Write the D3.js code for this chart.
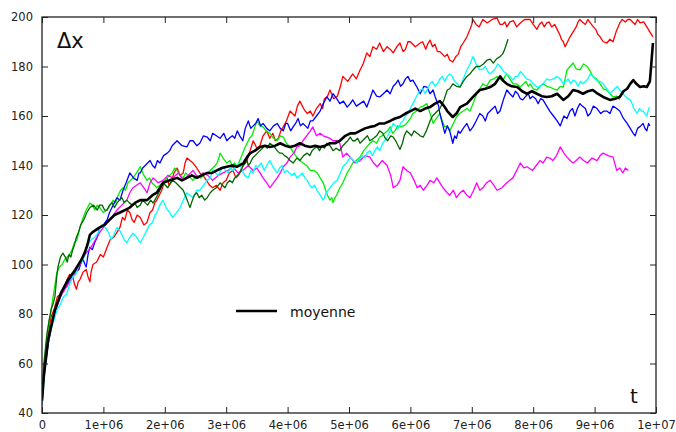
<!DOCTYPE html>
<html><head><meta charset="utf-8">
<script src="https://cdn.jsdelivr.net/npm/d3@7"></script>
<style>html,body{margin:0;padding:0;background:#fff;}svg{display:block;}</style>
</head><body>
<svg id="c" width="676" height="432"></svg>
<script>
// t in units of 1e6, value = Δx
const redData = [[0,45],[0.05,60],[0.1,72],[0.15,79],[0.2,82],[0.25,87],[0.3,88],[0.37,91],[0.41,94],[0.45,96],[0.5,95],[0.53,92],[0.56,90],[0.59,93],[0.62,94],[0.67,97],[0.72,98],[0.75,95],[0.78,93],[0.8,97],[0.83,100],[0.89,101],[0.95,104],[1.0,103],[1.06,107],[1.11,110],[1.17,111],[1.22,113],[1.27,115],[1.31,119],[1.35,118],[1.39,122],[1.43,121],[1.47,118],[1.5,117],[1.55,120],[1.6,119],[1.66,116],[1.71,117],[1.76,121],[1.8,122],[1.84,125],[1.87,126],[1.91,128],[1.95,130],[2.0,134],[2.04,135],[2.07,132],[2.1,133],[2.15,137],[2.2,139],[2.25,136],[2.3,137],[2.33,141],[2.36,143],[2.41,142],[2.46,141],[2.52,139],[2.57,137],[2.62,136],[2.68,134],[2.73,132],[2.78,131],[2.84,132],[2.9,130],[2.95,133],[3.0,134],[3.05,137],[3.11,138],[3.16,135],[3.2,136],[3.27,140],[3.34,142],[3.39,146],[3.44,150],[3.5,147],[3.55,148],[3.6,152],[3.66,154],[3.71,151],[3.76,153],[3.8,150],[3.85,151],[3.89,154],[3.93,155.6],[3.98,158],[4.04,162],[4.08,161],[4.12,160],[4.16,164],[4.2,166],[4.26,163],[4.32,161],[4.37,162],[4.41,160],[4.47,163],[4.53,165],[4.57,163],[4.6,167],[4.65,168],[4.69,170.5],[4.75,167],[4.81,168],[4.86,172],[4.9,176],[4.98,174],[5.06,177],[5.12,175],[5.18,178.6],[5.23,181],[5.29,185.5],[5.34,184],[5.39,188],[5.45,187],[5.5,189.5],[5.56,186],[5.62,188],[5.67,187],[5.72,185.5],[5.78,188],[5.83,189.5],[5.88,186],[5.92,187],[5.96,190],[6.0,190],[6.08,188],[6.16,189.5],[6.2,190],[6.25,187],[6.28,189],[6.32,190.7],[6.36,188],[6.4,189],[6.44,186],[6.48,186],[6.52,185],[6.56,184],[6.6,185],[6.64,182.6],[6.69,181.8],[6.74,184],[6.78,185],[6.82,188],[6.86,189.5],[6.92,192],[6.97,195],[7.0,197],[7.02,199],[7.07,197],[7.12,196],[7.18,199],[7.25,197.6],[7.33,199],[7.41,199.6],[7.46,197],[7.5,197],[7.54,198],[7.57,196],[7.62,198],[7.68,198.5],[7.73,196],[7.79,197.6],[7.86,199],[7.95,199],[8.0,197],[8.06,195],[8.1,197],[8.14,198],[8.18,196],[8.22,197.6],[8.26,198],[8.3,196],[8.35,197],[8.39,195],[8.43,193],[8.46,191],[8.49,190],[8.52,188],[8.56,190],[8.6,192],[8.65,194],[8.7,196],[8.73,198],[8.76,199],[8.8,198],[8.85,197],[8.89,199],[8.93,197.6],[8.98,196],[9.02,195],[9.05,193],[9.09,192],[9.14,190],[9.2,189.5],[9.25,191],[9.3,190],[9.35,194],[9.41,197.6],[9.45,199],[9.5,198],[9.54,199],[9.58,199],[9.62,198],[9.66,197],[9.7,199],[9.74,197.6],[9.8,198],[9.85,196],[9.9,194],[9.95,192]];
const blueData = [[0,44],[0.03,55],[0.1,68],[0.15,75],[0.2,80],[0.25,84],[0.3,87],[0.35,90],[0.4,91],[0.45,94],[0.5,95],[0.55,97],[0.6,98],[0.64,101],[0.67,102],[0.7,100],[0.72,99],[0.75,104],[0.78,107],[0.82,106],[0.86,109],[0.9,111],[0.94,115],[1.0,116],[1.06,118],[1.1,121],[1.14,123],[1.18,125],[1.22,127],[1.27,126],[1.32,130],[1.37,133],[1.43,137],[1.49,135],[1.55,134],[1.58,137],[1.6,137],[1.64,139],[1.68,140],[1.72,141],[1.76,142],[1.8,140],[1.84,139],[1.88,142],[1.92,141],[1.98,144],[2.04,145],[2.08,146],[2.12,148],[2.16,149],[2.2,150],[2.28,148],[2.36,147.5],[2.41,150],[2.46,150],[2.52,148],[2.57,149],[2.63,152],[2.69,151.5],[2.74,150],[2.78,153],[2.84,152],[2.9,151],[2.96,153],[3.01,150],[3.05,151],[3.1,152],[3.14,151],[3.18,154],[3.22,152],[3.27,150],[3.31,155],[3.36,158],[3.4,155],[3.44,156],[3.48,157],[3.52,159],[3.56,156],[3.6,157],[3.66,155],[3.71,154],[3.77,156],[3.83,157],[3.88,155],[3.93,154],[3.97,157],[4.0,157],[4.05,154],[4.09,155.6],[4.13,157],[4.17,159],[4.21,156],[4.25,157],[4.29,156],[4.33,155],[4.37,158],[4.41,158],[4.47,160],[4.53,162],[4.58,165],[4.64,167.7],[4.69,166],[4.74,169],[4.8,167],[4.85,165],[4.91,166],[4.97,163.6],[5.02,165],[5.06,166.5],[5.12,164],[5.18,165],[5.24,166],[5.29,163.6],[5.34,167],[5.39,170.5],[5.45,168],[5.5,167.7],[5.56,169],[5.62,170.5],[5.67,169],[5.72,172],[5.76,173],[5.8,174.5],[5.84,172],[5.88,173],[5.92,175],[5.96,176],[6.0,174],[6.04,174.5],[6.1,172],[6.16,169],[6.22,172],[6.27,171.7],[6.32,169],[6.37,170.5],[6.4,168],[6.43,166],[6.46,164],[6.48,161],[6.52,157],[6.56,153],[6.6,156],[6.64,154],[6.67,151],[6.69,149],[6.72,152],[6.75,151],[6.78,154],[6.81,153],[6.86,155],[6.92,157],[6.97,154],[7.02,155.6],[7.07,158],[7.13,161],[7.18,160],[7.22,158],[7.26,161],[7.3,162],[7.34,163],[7.38,164],[7.42,161],[7.46,162],[7.52,167],[7.57,170.5],[7.62,169],[7.67,167.7],[7.71,170],[7.75,169],[7.79,167],[7.83,166.5],[7.88,168],[7.92,169],[7.95,167],[7.99,168],[8.04,167],[8.08,165],[8.12,167],[8.16,166.5],[8.22,164],[8.27,162],[8.33,160],[8.39,158],[8.44,156],[8.47,158],[8.5,160],[8.55,159],[8.6,162],[8.64,163],[8.68,160],[8.72,163],[8.76,165],[8.8,164],[8.85,163],[8.89,160],[8.93,161],[8.98,164],[9.04,163],[9.1,161],[9.15,162],[9.2,162],[9.25,161],[9.3,164],[9.36,163],[9.41,162],[9.47,159],[9.53,157],[9.58,155],[9.63,153],[9.66,152],[9.7,155],[9.75,156],[9.79,157],[9.82,155],[9.85,154],[9.88,157],[9.9,156]];
const cyanData = [[0,44],[0.05,58],[0.1,68],[0.15,74],[0.2,78],[0.25,82],[0.3,84],[0.35,87],[0.4,88],[0.45,92],[0.5,95],[0.55,96],[0.6,100],[0.65,101],[0.7,104],[0.75,108],[0.8,110],[0.86,111],[0.92,113],[0.97,116],[1.03,115],[1.08,113],[1.13,110],[1.17,112],[1.22,115],[1.26,114],[1.3,112],[1.34,110],[1.38,108.7],[1.43,111],[1.48,112.7],[1.54,111],[1.6,108.7],[1.65,111],[1.71,114],[1.75,116],[1.8,117],[1.84,120],[1.87,121],[1.92,124],[1.97,126],[2.02,123],[2.08,121],[2.1,120],[2.13,119],[2.19,121],[2.25,123],[2.3,126],[2.36,129],[2.41,128],[2.46,127],[2.52,130],[2.57,130],[2.63,132],[2.69,134],[2.74,135],[2.78,138],[2.83,137],[2.87,136],[2.91,138],[2.95,139.5],[2.99,138],[3.03,137],[3.07,139],[3.11,138],[3.17,140],[3.22,141],[3.26,138],[3.3,136],[3.36,135],[3.4,138],[3.44,137],[3.48,140],[3.52,139.5],[3.57,141],[3.62,138],[3.66,140],[3.71,142],[3.77,139],[3.83,137],[3.87,139],[3.91,140],[3.95,137],[3.99,138],[4.03,137],[4.07,136],[4.11,137],[4.15,135],[4.2,136],[4.24,137],[4.28,135],[4.32,134],[4.36,132],[4.4,131],[4.44,132],[4.48,130],[4.53,128],[4.58,126],[4.63,129],[4.69,131],[4.75,133],[4.81,134],[4.86,137],[4.9,139.5],[4.96,141],[5.02,143.4],[5.07,142],[5.13,141],[5.18,143],[5.22,144],[5.26,143],[5.29,145],[5.34,146],[5.38,144],[5.42,146],[5.46,147.5],[5.5,146],[5.55,149],[5.58,150],[5.62,151.5],[5.67,154],[5.72,157],[5.76,156],[5.8,155],[5.84,157],[5.88,158],[5.92,160],[5.96,161],[6.0,163],[6.04,165],[6.1,168],[6.16,170.5],[6.2,171],[6.24,169],[6.28,171],[6.32,173],[6.36,174],[6.4,172],[6.44,173],[6.48,175],[6.52,176],[6.56,174],[6.6,176],[6.64,177],[6.68,176],[6.72,174],[6.76,173],[6.81,171.7],[6.86,175],[6.92,178.6],[6.97,181],[7.02,184],[7.07,181],[7.13,178.6],[7.18,179],[7.22,180],[7.26,178],[7.3,177],[7.34,178],[7.38,179],[7.42,181],[7.46,180],[7.52,178],[7.57,177],[7.62,176],[7.67,174.5],[7.71,176],[7.75,176],[7.79,178],[7.83,177],[7.89,175],[7.95,174.5],[8.0,173],[8.06,171.7],[8.11,172],[8.16,173],[8.22,175],[8.27,174.5],[8.33,175],[8.39,176],[8.44,175],[8.49,173],[8.53,174],[8.57,175],[8.61,173],[8.65,174.5],[8.69,174],[8.73,172],[8.77,174],[8.81,173],[8.85,174],[8.89,175],[8.93,177],[8.97,176],[9.01,175],[9.05,174],[9.09,174],[9.14,173],[9.2,171],[9.25,169],[9.29,170],[9.33,171],[9.37,172],[9.41,170.5],[9.46,169],[9.5,168],[9.54,167],[9.58,166.5],[9.61,165],[9.64,163],[9.67,162],[9.69,161],[9.73,163],[9.77,162],[9.79,162],[9.82,161],[9.85,160],[9.88,163],[9.9,163.6]];
const greenData = [[0,45],[0.03,58],[0.08,70],[0.11,76],[0.15,82],[0.2,90],[0.24,96.6],[0.28,99],[0.33,100],[0.37,102],[0.41,103],[0.45,104],[0.49,106],[0.53,109],[0.57,110],[0.62,115],[0.67,119],[0.72,122],[0.78,124.8],[0.82,124],[0.86,122],[0.9,124],[0.94,123],[1.0,121],[1.06,122],[1.11,124],[1.16,126],[1.2,125],[1.24,128],[1.28,130],[1.32,131],[1.36,130],[1.4,133],[1.44,134],[1.48,135],[1.54,137],[1.6,139.5],[1.66,136],[1.71,134],[1.75,135],[1.79,133],[1.83,132],[1.87,131],[1.92,132],[1.96,133],[2.0,134],[2.04,135],[2.08,136],[2.12,137],[2.16,139],[2.2,138],[2.25,136],[2.3,135],[2.34,137],[2.38,136],[2.42,135],[2.46,134],[2.52,136],[2.58,135],[2.63,136],[2.69,137],[2.74,138],[2.78,139],[2.82,140],[2.85,141],[2.88,143],[2.9,145],[2.95,143],[3.01,141],[3.06,142],[3.1,140],[3.14,141],[3.18,139.5],[3.22,142],[3.27,145],[3.3,147],[3.34,149],[3.38,151],[3.42,152],[3.46,155],[3.5,158],[3.55,156],[3.6,155.6],[3.65,154],[3.71,153],[3.77,151],[3.83,150],[3.88,152],[3.93,151.5],[3.98,149],[4.04,147.5],[4.1,145],[4.15,143.4],[4.2,142],[4.25,141],[4.31,140],[4.37,138],[4.43,138],[4.48,137],[4.53,135],[4.58,133],[4.62,130],[4.65,128],[4.69,126],[4.72,127],[4.74,125],[4.77,127],[4.8,128],[4.85,131],[4.9,133],[4.97,137],[5.02,139],[5.06,141],[5.12,142],[5.18,143.4],[5.24,146],[5.29,147.5],[5.34,149],[5.39,150],[5.45,149],[5.5,151.5],[5.54,152],[5.58,153],[5.63,154],[5.67,155.6],[5.71,153],[5.75,154],[5.79,156],[5.83,155.6],[5.89,156],[5.94,157],[6.0,159],[6.04,161],[6.1,162],[6.16,163.6],[6.21,164],[6.27,165],[6.32,161],[6.37,157],[6.42,159],[6.48,161],[6.52,158],[6.56,155.6],[6.6,156],[6.64,154],[6.7,157],[6.75,159.6],[6.8,161],[6.86,162],[6.92,163],[6.97,162],[7.02,165],[7.08,169],[7.13,171],[7.18,173],[7.24,172],[7.3,174.5],[7.36,175],[7.41,176],[7.46,175],[7.5,174],[7.54,176],[7.57,177],[7.62,175],[7.67,173],[7.73,173],[7.79,171.7],[7.84,173],[7.88,174],[7.92,172],[7.95,173],[8.0,171],[8.06,170.5],[8.11,172],[8.16,173],[8.22,172],[8.27,171.7],[8.33,171],[8.39,170.5],[8.44,172],[8.49,171.7],[8.52,175],[8.55,178.6],[8.6,180],[8.65,181.4],[8.7,179],[8.76,178.6],[8.82,181],[8.88,180],[8.93,178],[8.97,176],[9.03,175],[9.09,173],[9.14,171],[9.2,170.5],[9.25,169],[9.3,167.7],[9.36,168],[9.41,166.5]];
const darkGreenData = [[0,46],[0.03,60],[0.08,72],[0.12,78],[0.15,82],[0.18,84],[0.21,87],[0.24,95],[0.26,99],[0.3,103],[0.34,104.6],[0.38,103],[0.41,101],[0.44,104],[0.47,103],[0.5,106],[0.53,108],[0.56,111],[0.59,112.7],[0.63,116],[0.68,118],[0.73,121],[0.78,123],[0.84,124],[0.9,122],[0.94,124],[0.98,124],[1.02,122],[1.06,122],[1.1,124],[1.14,125],[1.18,123],[1.22,124.8],[1.26,126],[1.3,127],[1.34,125],[1.38,126],[1.42,125],[1.47,124],[1.51,125],[1.55,123],[1.6,124],[1.64,126],[1.68,125],[1.72,124],[1.77,126],[1.81,124.8],[1.86,127],[1.9,129],[1.94,131],[1.97,132.9],[2.01,132],[2.05,131],[2.09,133],[2.13,134],[2.18,133],[2.22,132],[2.26,131],[2.3,130],[2.35,127],[2.38,125],[2.41,123],[2.45,126],[2.48,128],[2.52,129],[2.56,127],[2.6,128],[2.65,126],[2.69,127],[2.74,129],[2.78,130],[2.84,131],[2.9,133],[2.94,132],[2.98,131],[3.02,133],[3.06,134],[3.1,133],[3.14,135],[3.18,136],[3.22,137],[3.28,140],[3.34,142],[3.36,140],[3.39,141],[3.43,143],[3.47,144],[3.51,145],[3.55,146],[3.59,147],[3.63,148],[3.67,147],[3.71,149],[3.77,148],[3.83,146],[3.87,145],[3.91,145],[3.95,144],[3.99,143.4],[4.04,142],[4.09,141],[4.15,143],[4.2,142],[4.26,144],[4.32,145],[4.36,144],[4.4,146],[4.44,147],[4.48,147.5],[4.52,146],[4.56,148],[4.6,147],[4.64,149],[4.69,148],[4.74,146],[4.79,147],[4.85,146],[4.9,148],[4.94,149],[4.98,150],[5.02,151.5],[5.06,150],[5.1,150],[5.14,151],[5.18,149],[5.22,150],[5.26,151],[5.3,152],[5.34,150],[5.4,151],[5.45,152],[5.5,154],[5.55,153],[5.59,151],[5.63,150],[5.68,152],[5.72,151.5],[5.76,150],[5.8,148],[5.83,146.5],[5.87,149],[5.9,152],[5.94,154],[5.98,153],[6.02,152],[6.06,154],[6.11,153],[6.16,152],[6.21,151.5],[6.26,154],[6.32,158],[6.36,160],[6.4,161],[6.44,162],[6.48,163],[6.54,166],[6.6,170.5],[6.64,171],[6.69,173],[6.75,172],[6.81,171.7],[6.86,174],[6.92,176],[6.97,177],[7.02,178.6],[7.07,180],[7.13,180],[7.19,181],[7.25,182.6],[7.3,183],[7.35,181.4],[7.4,183],[7.46,184],[7.5,185],[7.52,186],[7.55,188],[7.57,189.5],[7.59,191]];
const magentaData = [[0,43],[0.03,55],[0.1,68],[0.2,80],[0.3,87],[0.4,91],[0.5,95],[0.6,99],[0.7,104],[0.8,107],[0.87,110],[0.94,113],[1.0,115],[1.06,117],[1.14,119],[1.22,122],[1.3,124],[1.38,126],[1.43,129],[1.48,131],[1.54,132],[1.6,133],[1.66,131],[1.71,129],[1.76,133],[1.81,135],[1.89,133],[1.97,134],[2.05,136],[2.13,135],[2.22,137],[2.3,134],[2.38,136],[2.46,138],[2.54,135],[2.62,137],[2.7,136],[2.78,134],[2.87,136],[2.95,137],[3.03,138],[3.11,139.5],[3.19,137],[3.27,138],[3.36,140],[3.44,138],[3.5,139],[3.55,137],[3.6,135],[3.66,133],[3.71,131],[3.77,133],[3.83,135],[3.88,137],[3.93,139.5],[3.99,141],[4.04,143.4],[4.1,145],[4.15,147.5],[4.2,148],[4.25,150],[4.31,152],[4.37,154],[4.41,155.6],[4.47,152],[4.53,153],[4.58,152],[4.64,151.5],[4.69,151],[4.74,150],[4.8,150],[4.85,149],[4.9,143.4],[4.96,145],[5.02,143.4],[5.1,141],[5.18,142],[5.26,144],[5.34,143.4],[5.4,141],[5.46,139.5],[5.54,142],[5.62,140],[5.68,136],[5.72,131],[5.78,132],[5.83,134],[5.88,139.5],[5.94,138],[6.0,137],[6.06,134],[6.11,131],[6.16,132],[6.21,130],[6.27,132],[6.32,134],[6.38,133],[6.43,135],[6.48,133],[6.53,131],[6.6,129],[6.64,128],[6.7,130],[6.75,127],[6.81,129],[6.86,130],[6.92,128],[6.97,127],[7.03,130],[7.08,133],[7.13,130],[7.18,131],[7.24,133],[7.3,134],[7.36,132],[7.41,130],[7.49,131],[7.57,133],[7.62,134],[7.67,135],[7.73,138],[7.79,141],[7.85,139],[7.9,139.5],[7.99,138],[8.05,140],[8.11,142],[8.16,141],[8.22,143.4],[8.27,143],[8.32,142],[8.38,144],[8.44,147.5],[8.5,145],[8.55,143.4],[8.6,142],[8.65,141],[8.7,142],[8.76,143.4],[8.82,142],[8.88,141],[8.96,143],[9.04,142],[9.09,144],[9.14,145],[9.22,144],[9.3,143.4],[9.36,138],[9.41,139],[9.46,137],[9.5,139],[9.55,138]];
const meanData = [[0,45],[0.03,55],[0.1,69.5],[0.21,81.6],[0.31,88.5],[0.42,93.7],[0.54,97.8],[0.64,101.8],[0.7,105],[0.74,108],[0.78,112],[0.82,113],[0.94,115],[1.02,116],[1.1,118],[1.18,120],[1.27,121],[1.35,122],[1.43,123],[1.52,125],[1.6,126],[1.71,126],[1.8,128],[1.87,129],[1.97,133],[2.08,134],[2.2,135],[2.28,134],[2.36,135],[2.44,136],[2.52,135],[2.6,136],[2.69,137],[2.77,137],[2.85,138],[2.93,139],[3.01,139.5],[3.1,140],[3.18,139.5],[3.28,141],[3.34,143.4],[3.39,145],[3.47,146],[3.55,147.5],[3.63,148],[3.71,147.5],[3.8,148],[3.88,149],[3.96,148],[4.04,147.5],[4.12,148],[4.2,149],[4.28,148],[4.37,147.5],[4.45,148],[4.53,147.5],[4.61,148],[4.69,149],[4.77,149],[4.85,150],[4.94,152],[5.02,153],[5.1,153],[5.18,154],[5.26,155],[5.34,155.6],[5.42,156],[5.5,157],[5.58,157],[5.67,158],[5.75,159],[5.83,159.6],[5.92,161],[6.0,162],[6.08,163],[6.16,162],[6.24,163],[6.32,163.6],[6.4,165],[6.48,166],[6.55,164],[6.6,162],[6.69,159.6],[6.75,161],[6.81,163.6],[6.92,165],[7.02,167.7],[7.13,170.5],[7.22,171],[7.3,171.7],[7.38,173],[7.46,176],[7.52,174],[7.57,173],[7.65,172],[7.74,171.7],[7.82,170],[7.9,169],[7.98,170],[8.06,169],[8.14,168],[8.22,167.7],[8.3,168],[8.39,169],[8.49,166.5],[8.57,168],[8.65,170.5],[8.73,170],[8.81,169],[8.89,170],[8.97,170.5],[9.05,169],[9.14,167.7],[9.25,166.5],[9.33,167],[9.41,167.7],[9.47,170],[9.53,171],[9.58,173],[9.63,174.5],[9.68,173],[9.74,171.7],[9.8,172],[9.85,171.7],[9.9,174],[9.92,180],[9.95,189.5]];

const seriesColors = ["#ff0000","#00ee00","#0000ff","#ff00ff","#00ffff","#006600","#000000"];
const xTickValues = [0,1e6,2e6,3e6,4e6,5e6,6e6,7e6,8e6,9e6,1e7];
const xTickLabels = ["0","1e+06","2e+06","3e+06","4e+06","5e+06","6e+06","7e+06","8e+06","9e+06","1e+07"];
const yTickValues = [40,60,80,100,120,140,160,180,200];
const yTickLabels = ["40","60","80","100","120","140","160","180","200"];
const legendLabel = "moyenne";
const yAxisTitle = "Δx";
const xAxisTitle = "t";

const allData = [redData, greenData, blueData, magentaData, cyanData, darkGreenData, meanData];

const svg = d3.select("#c");
const L = 42, R = 656, T = 17, B = 413;
const x = d3.scaleLinear().domain([0, 1e7]).range([L, R]);
const y = d3.scaleLinear().domain([40, 200]).range([B, T]);

svg.append("defs").append("clipPath").attr("id","clip").append("rect")
  .attr("x", L).attr("y", T).attr("width", R-L).attr("height", B-T);

const line = d3.line().x(d => x(d[0]*1e6)).y(d => y(d[1]));
const g = svg.append("g").attr("clip-path","url(#clip)");
allData.forEach((data, i) => {
  g.append("path").datum(data)
    .attr("fill","none")
    .attr("stroke", seriesColors[i])
    .attr("stroke-width", i === 6 ? 2.6 : 1.3)
    .attr("stroke-linejoin","round")
    .attr("d", line);
});

const font = "'DejaVu Sans', sans-serif";
const fmtX = (d,i) => xTickLabels[i];
const fmtY = (d,i) => yTickLabels[i];

const axB = svg.append("g").attr("transform",`translate(0,${B})`)
  .call(d3.axisBottom(x).tickValues(xTickValues).tickFormat(fmtX).tickSizeInner(-6).tickSizeOuter(0).tickPadding(8));
const axT = svg.append("g").attr("transform",`translate(0,${T})`)
  .call(d3.axisTop(x).tickValues(xTickValues).tickFormat("").tickSizeInner(-6).tickSizeOuter(0));
const axL = svg.append("g").attr("transform",`translate(${L},0)`)
  .call(d3.axisLeft(y).tickValues(yTickValues).tickFormat(fmtY).tickSizeInner(-6).tickSizeOuter(0).tickPadding(9));
const axR = svg.append("g").attr("transform",`translate(${R},0)`)
  .call(d3.axisRight(y).tickValues(yTickValues).tickFormat("").tickSizeInner(-6).tickSizeOuter(0));
[axB, axT, axL, axR].forEach(a => {
  a.select(".domain").remove();
  a.selectAll("line").attr("stroke","#222").attr("stroke-width",1);
  a.selectAll("text").attr("font-family", font).attr("font-size", 11.5).attr("fill","#222");
});

svg.append("rect").attr("x",L).attr("y",T).attr("width",R-L).attr("height",B-T)
  .attr("fill","none").attr("stroke","#222").attr("stroke-width",1.3);

svg.append("text").attr("x", 57).attr("y", 48).text(yAxisTitle)
  .attr("font-family", font).attr("font-size", 21).attr("fill","#111");
svg.append("text").attr("x", 630).attr("y", 403).text(xAxisTitle)
  .attr("font-family", font).attr("font-size", 20).attr("fill","#111");

svg.append("line").attr("x1",236).attr("x2",277).attr("y1",311).attr("y2",311)
  .attr("stroke", seriesColors[6]).attr("stroke-width",2.6);
svg.append("text").attr("x",290).attr("y",317).text(legendLabel)
  .attr("font-family", font).attr("font-size", 14).attr("fill","#111");
</script>
</body></html>
